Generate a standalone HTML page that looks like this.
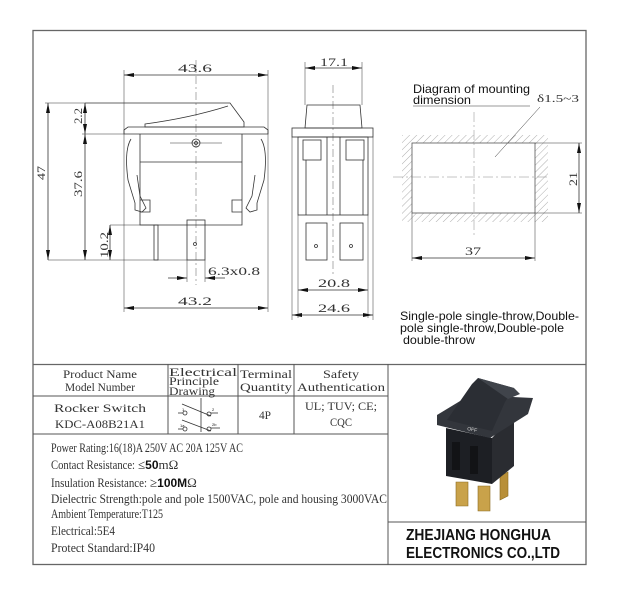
<!DOCTYPE html>
<html><head><meta charset="utf-8"><style>
html,body{margin:0;padding:0;background:#fff;}
svg{display:block;}
.s{font-family:"Liberation Serif",serif;fill:#333;}
.a{font-family:"Liberation Sans",Arial,sans-serif;fill:#111;}
</style></head><body>
<svg width="621" height="602" viewBox="0 0 621 602" xmlns="http://www.w3.org/2000/svg">
<defs>
<marker id="ar" viewBox="0 0 10 4" refX="10" refY="2" markerWidth="10" markerHeight="4" orient="auto-start-reverse" markerUnits="userSpaceOnUse"><path d="M0,0 L10,2 L0,4z" fill="#111"/></marker>
<pattern id="h" width="5" height="5" patternUnits="userSpaceOnUse" patternTransform="rotate(45)"><line x1="0" y1="0" x2="0" y2="5" stroke="#999" stroke-width="0.8"/></pattern>
</defs>
<rect x="33" y="30.5" width="553" height="534" fill="none" stroke="#666" stroke-width="1.3"/>
<line x1="33" y1="364.5" x2="586" y2="364.5" stroke="#666" stroke-width="1.3"/>

<g stroke="#333" stroke-width="0.8" fill="none">
<line x1="196" y1="60" x2="196" y2="285" stroke="#777" stroke-dasharray="8,3,2,3" stroke-width="0.6"/>
<line x1="124" y1="70" x2="124" y2="312" stroke-width="0.5"/>
<line x1="268" y1="70" x2="268" y2="312" stroke-width="0.5"/>
<line x1="124" y1="75" x2="268" y2="75" marker-start="url(#ar)" marker-end="url(#ar)"/>
<path d="M85 103 L230 103 L244 122 L244 127 L145 127 L145 124 Q190 118 228 106"/>
<path d="M124 130 L128 127 L264 127 L268 130 L268 134 L124 134 Z"/>
<path d="M140 134 L140 225 L242 225 L242 134"/>
<line x1="140" y1="162" x2="242" y2="162"/>
<circle cx="196" cy="143" r="4"/><circle cx="196" cy="143" r="1.5"/>
<line x1="170" y1="143" x2="222" y2="143" stroke-width="0.5"/>
<path d="M131 139 Q124 150 128 180 L135 203 L135 210 L142 212 L146 208 L140 196 L137 175"/>
<path d="M261 139 Q268 150 264 180 L257 203 L257 210 L250 212 L246 208 L252 196 L255 175"/>
<path d="M140 200 L150 200 L150 212 L140 212 M242 200 L232 200 L232 212 L242 212"/>
<rect x="187" y="220" width="18" height="40"/>
<circle cx="195" cy="244" r="1.5"/>
<rect x="154" y="225" width="4" height="35"/>
<line x1="110" y1="225" x2="154" y2="225" stroke-width="0.5"/>
<line x1="45" y1="103" x2="85" y2="103" stroke-width="0.5"/>
<line x1="48" y1="260" x2="187" y2="260" stroke-width="0.5"/>
<line x1="48" y1="103" x2="48" y2="260" marker-start="url(#ar)" marker-end="url(#ar)"/>
<line x1="85" y1="103" x2="85" y2="134" marker-start="url(#ar)" marker-end="url(#ar)"/>
<line x1="82" y1="134" x2="124" y2="134" stroke-width="0.5"/>
<line x1="85" y1="134" x2="85" y2="260" marker-start="url(#ar)" marker-end="url(#ar)"/>
<line x1="110" y1="225" x2="110" y2="260" marker-start="url(#ar)" marker-end="url(#ar)"/>
<line x1="187" y1="260" x2="187" y2="282" stroke-width="0.5"/>
<line x1="205" y1="260" x2="205" y2="282" stroke-width="0.5"/>
<line x1="168" y1="278" x2="187" y2="278" marker-end="url(#ar)"/>
<line x1="225" y1="278" x2="205" y2="278" marker-end="url(#ar)"/>
<line x1="124" y1="308" x2="268" y2="308" marker-start="url(#ar)" marker-end="url(#ar)"/>

<line x1="333" y1="85" x2="333" y2="275" stroke="#777" stroke-dasharray="8,3,2,3" stroke-width="0.6"/>
<line x1="305" y1="62" x2="305" y2="105" stroke-width="0.5"/>
<line x1="362" y1="62" x2="362" y2="105" stroke-width="0.5"/>
<line x1="305" y1="68" x2="362" y2="68" marker-start="url(#ar)" marker-end="url(#ar)"/>
<path d="M307 105 L360 105 L362 128 L305 128 Z"/>
<rect x="292" y="128" width="81" height="9"/>
<rect x="298" y="137" width="70" height="78"/>
<rect x="303" y="140" width="18" height="20"/>
<rect x="346" y="140" width="18" height="20"/>
<path d="M306 160 L306 215 M327 137 L327 215 M340 137 L340 215 M363 160 L363 215"/>
<rect x="306" y="223" width="21" height="37"/>
<rect x="340" y="223" width="23" height="37"/>
<circle cx="316" cy="246" r="1.5"/><circle cx="351" cy="246" r="1.5"/>
<line x1="298" y1="215" x2="298" y2="318" stroke-width="0.5"/>
<line x1="368" y1="215" x2="368" y2="318" stroke-width="0.5"/>
<line x1="292" y1="137" x2="292" y2="320" stroke-width="0.5"/>
<line x1="373" y1="137" x2="373" y2="320" stroke-width="0.5"/>
<line x1="298" y1="290" x2="368" y2="290" marker-start="url(#ar)" marker-end="url(#ar)"/>
<line x1="292" y1="315" x2="373" y2="315" marker-start="url(#ar)" marker-end="url(#ar)"/>

<path d="M402 135 H548 V222 H402 Z M412 143 V213 H535 V143 Z" fill="url(#h)" fill-rule="evenodd" stroke="none"/>
<rect x="412" y="143" width="123" height="70" fill="#fff" stroke="#555"/>
<line x1="393" y1="177" x2="550" y2="177" stroke="#888" stroke-dasharray="10,3,2,3" stroke-width="0.5"/>
<line x1="474" y1="112" x2="474" y2="236" stroke="#888" stroke-dasharray="10,3,2,3" stroke-width="0.5"/>
<line x1="413" y1="106" x2="530" y2="106" stroke-width="0.6"/>
<line x1="540" y1="107" x2="495" y2="157" stroke-width="0.5"/>
<line x1="535" y1="143" x2="582" y2="143" stroke-width="0.5"/>
<line x1="535" y1="213" x2="582" y2="213" stroke-width="0.5"/>
<line x1="579" y1="143" x2="579" y2="213" marker-start="url(#ar)" marker-end="url(#ar)"/>
<line x1="412" y1="213" x2="412" y2="261" stroke-width="0.5"/>
<line x1="535" y1="213" x2="535" y2="261" stroke-width="0.5"/>
<line x1="412" y1="258" x2="535" y2="258" marker-start="url(#ar)" marker-end="url(#ar)"/>
</g>

<g class="s" font-size="12">
<text x="178" y="72" textLength="34" lengthAdjust="spacingAndGlyphs">43.6</text>
<text x="320" y="66" textLength="28" lengthAdjust="spacingAndGlyphs">17.1</text>
<text transform="translate(45,180) rotate(-90)" textLength="14" lengthAdjust="spacingAndGlyphs">47</text>
<text transform="translate(82,124) rotate(-90)" textLength="16" lengthAdjust="spacingAndGlyphs">2.2</text>
<text transform="translate(82,197) rotate(-90)" textLength="26" lengthAdjust="spacingAndGlyphs">37.6</text>
<text transform="translate(108,258) rotate(-90)" textLength="26" lengthAdjust="spacingAndGlyphs">10.2</text>
<text x="208" y="275" textLength="52" lengthAdjust="spacingAndGlyphs">6.3x0.8</text>
<text x="178" y="305" textLength="34" lengthAdjust="spacingAndGlyphs">43.2</text>
<text x="318" y="287" textLength="32" lengthAdjust="spacingAndGlyphs">20.8</text>
<text x="318" y="312" textLength="32" lengthAdjust="spacingAndGlyphs">24.6</text>
<text x="465" y="255" textLength="16" lengthAdjust="spacingAndGlyphs">37</text>
<text transform="translate(577,186) rotate(-90)" textLength="14" lengthAdjust="spacingAndGlyphs">21</text>
<text x="537" y="102" font-size="10" textLength="42" lengthAdjust="spacingAndGlyphs">δ1.5~3</text>
</g>
<g class="a" font-size="12">
<text x="413" y="93" textLength="117" lengthAdjust="spacingAndGlyphs">Diagram of mounting</text>
<text x="413" y="104" textLength="58" lengthAdjust="spacingAndGlyphs">dimension</text>
<text x="400" y="320" textLength="179" lengthAdjust="spacingAndGlyphs">Single-pole single-throw,Double-</text>
<text x="400" y="332" textLength="164" lengthAdjust="spacingAndGlyphs">pole single-throw,Double-pole</text>
<text x="403" y="344" textLength="72" lengthAdjust="spacingAndGlyphs">double-throw</text>
</g>

<g stroke="#555" stroke-width="1" fill="none">
<line x1="33" y1="396" x2="388" y2="396"/>
<line x1="33" y1="434" x2="388" y2="434"/>
<line x1="168" y1="364" x2="168" y2="434"/>
<line x1="238" y1="364" x2="238" y2="434"/>
<line x1="294" y1="364" x2="294" y2="434"/>
<line x1="388" y1="364" x2="388" y2="565"/>
<line x1="388" y1="522" x2="586" y2="522"/>
</g>
<g class="s" font-size="12">
<text x="100" y="378" text-anchor="middle" textLength="74" lengthAdjust="spacingAndGlyphs">Product Name</text>
<text x="100" y="391" text-anchor="middle" textLength="70" lengthAdjust="spacingAndGlyphs">Model Number</text>
<text x="169" y="376" textLength="68" lengthAdjust="spacingAndGlyphs">Electrical</text>
<text x="169" y="385" textLength="50" lengthAdjust="spacingAndGlyphs">Principle</text>
<text x="169" y="395" textLength="46" lengthAdjust="spacingAndGlyphs">Drawing</text>
<text x="240" y="378" textLength="52" lengthAdjust="spacingAndGlyphs">Terminal</text>
<text x="240" y="391" textLength="52" lengthAdjust="spacingAndGlyphs">Quantity</text>
<text x="341" y="378" text-anchor="middle" textLength="36" lengthAdjust="spacingAndGlyphs">Safety</text>
<text x="341" y="391" text-anchor="middle" textLength="88" lengthAdjust="spacingAndGlyphs">Authentication</text>
<text x="100" y="412" text-anchor="middle" textLength="92" lengthAdjust="spacingAndGlyphs">Rocker Switch</text>
<text x="100" y="428" text-anchor="middle" textLength="90" lengthAdjust="spacingAndGlyphs">KDC-A08B21A1</text>
<text x="259" y="419" textLength="12" lengthAdjust="spacingAndGlyphs">4P</text>
<text x="341" y="410" text-anchor="middle" textLength="72" lengthAdjust="spacingAndGlyphs">UL; TUV; CE;</text>
<text x="341" y="426" text-anchor="middle" textLength="22" lengthAdjust="spacingAndGlyphs">CQC</text>
</g>
<g stroke="#333" stroke-width="0.8" fill="none">
<line x1="201" y1="398" x2="201" y2="432"/>
<line x1="182" y1="404" x2="211" y2="416"/>
<line x1="182" y1="420" x2="211" y2="431"/>
<line x1="178" y1="413" x2="183" y2="413"/><circle cx="185" cy="413" r="2"/>
<circle cx="209" cy="414" r="2"/><line x1="211" y1="413" x2="218" y2="413"/>
<line x1="178" y1="429" x2="183" y2="429"/><circle cx="185" cy="429" r="2"/>
<circle cx="209" cy="429" r="2"/><line x1="211" y1="428" x2="220" y2="428"/>
</g>
<g class="a" font-size="4"><text x="182" y="411">1</text><text x="212" y="411">2</text><text x="180" y="427">1a</text><text x="212" y="426">2b</text></g>

<g class="s" font-size="12.5">
<text x="51" y="452" textLength="192" lengthAdjust="spacingAndGlyphs">Power Rating:16(18)A 250V AC 20A 125V AC</text>
<text x="51" y="469" textLength="84" lengthAdjust="spacingAndGlyphs">Contact Resistance:</text>
<text x="138" y="469" font-size="13">≤<tspan class="a" font-weight="bold" font-size="12">50</tspan>mΩ</text>
<text x="51" y="487" textLength="96" lengthAdjust="spacingAndGlyphs">Insulation Resistance:</text>
<text x="150" y="487" font-size="13">≥<tspan class="a" font-weight="bold" font-size="12">100M</tspan>Ω</text>
<text x="51" y="503" textLength="336" lengthAdjust="spacingAndGlyphs">Dielectric Strength:pole and pole 1500VAC, pole and housing 3000VAC</text>
<text x="51" y="518" textLength="112" lengthAdjust="spacingAndGlyphs">Ambient Temperature:T125</text>
<text x="51" y="535" textLength="64" lengthAdjust="spacingAndGlyphs">Electrical:5E4</text>
<text x="51" y="552" textLength="104" lengthAdjust="spacingAndGlyphs">Protect Standard:IP40</text>
</g>
<g class="a" font-size="16" font-weight="bold">
<text x="406" y="540" textLength="145" lengthAdjust="spacingAndGlyphs">ZHEJIANG HONGHUA</text>
<text x="406" y="558" textLength="154" lengthAdjust="spacingAndGlyphs">ELECTRONICS CO.,LTD</text>
</g>

<g>
<polygon points="456,482 468,482 468,506 456,506" fill="#c9a24a" stroke="#8a6a20" stroke-width="0.6"/>
<polygon points="478,486 490,486 490,511 478,511" fill="#c9a24a" stroke="#8a6a20" stroke-width="0.6"/>
<polygon points="500,476 508,472 508,496 500,500" fill="#b88f38" stroke="#8a6a20" stroke-width="0.6"/>
<polygon points="446,428 492,438 492,484 446,476" fill="#1d1f24"/>
<polygon points="492,438 514,414 514,466 492,484" fill="#2a2c31"/>
<polygon points="437,415 470,395 533,398 528,414 490,438 437,425" fill="#33363c"/>
<polygon points="447,420 472,384 478,378 514,388 505,402 492,431" fill="#2b2e34"/>
<polygon points="478,378 514,388 520,394 508,399" fill="#40444b"/>
<text x="467" y="430" class="a" font-size="5" transform="rotate(12,467,430)" style="fill:#ddd">OFF</text>
<rect x="452" y="442" width="8" height="28" fill="#121316"/>
<rect x="470" y="446" width="8" height="28" fill="#121316"/>
</g>
</svg>
</body></html>
